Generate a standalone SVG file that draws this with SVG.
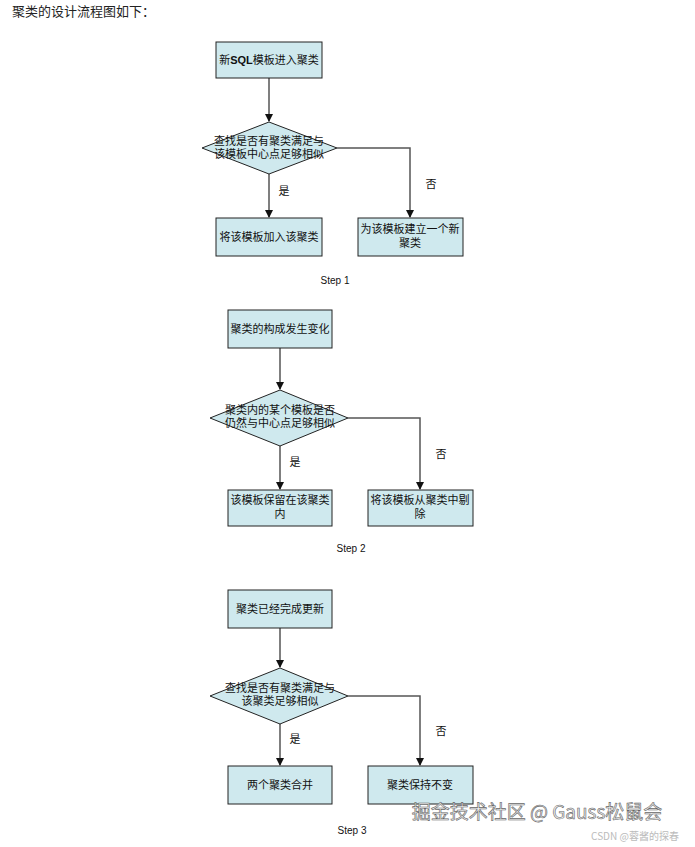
<svg xmlns="http://www.w3.org/2000/svg" width="695" height="847" viewBox="0 0 695 847">
<style>
.b{fill:#cfe9ee;stroke:#222;stroke-width:1}
.t{font-family:"Liberation Serif","Noto Sans CJK SC",serif;font-size:11px;fill:#111;text-anchor:middle}
.s{font-family:"Liberation Sans",sans-serif;font-size:10px;fill:#111;text-anchor:middle}
.c{fill:none;stroke:#555;stroke-width:1.5;marker-end:url(#a)}
</style>
<defs><marker id="a" markerWidth="8" markerHeight="8" refX="7" refY="4" orient="auto" markerUnits="userSpaceOnUse"><path d="M0,0L8,4L0,8z" fill="#111"/></marker></defs>
<rect width="695" height="847" fill="#fff"/>
<text x="12" y="16" style="font-family:'Noto Sans CJK SC',sans-serif;font-size:13px;fill:#222">聚类的设计流程图如下：</text>
<g id="connectors">
<path class="c" d="M269,78V121"/><path class="c" d="M269,174V217"/><path class="c" d="M337,148H410V217"/>
<path class="c" d="M280,348V389"/><path class="c" d="M280,446V489"/><path class="c" d="M348,418H420V489"/>
<path class="c" d="M280,628V667"/><path class="c" d="M280,724V765"/><path class="c" d="M348,696H420V765"/>
</g>
<g class="t"><text x="284" y="195">是</text><text x="431" y="188">否</text>
<text x="295" y="466">是</text><text x="441" y="458">否</text>
<text x="295" y="743">是</text><text x="441" y="735">否</text></g>
<g id="n1"><rect class="b" x="216" y="42" width="106" height="36"/><text class="t" x="269" y="64">新<tspan font-family="Liberation Sans" font-weight="bold">SQL</tspan>模板进入聚类</text></g>
<g id="d1"><polygon class="b" points="202,148 269,122 337,148 269,174"/><text class="t" x="269" y="145">查找是否有聚类满足与</text><text class="t" x="269" y="158">该模板中心点足够相似</text></g>
<g id="n2"><rect class="b" x="216" y="218" width="106" height="38"/><text class="t" x="269" y="241">将该模板加入该聚类</text></g>
<g id="n3"><rect class="b" x="358" y="218" width="105" height="38"/><text class="t" x="410" y="233">为该模板建立一个新</text><text class="t" x="410" y="247">聚类</text></g>
<text class="s" x="335" y="284">Step 1</text>
<g id="n4"><rect class="b" x="228" y="310" width="104" height="38"/><text class="t" x="280" y="333">聚类的构成发生变化</text></g>
<g id="d2"><polygon class="b" points="210,418 280,390 348,418 280,446"/><text class="t" x="280" y="414">聚类内的某个模板是否</text><text class="t" x="280" y="427">仍然与中心点足够相似</text></g>
<g id="n5"><rect class="b" x="228" y="490" width="104" height="36"/><text class="t" x="280" y="504">该模板保留在该聚类</text><text class="t" x="280" y="518">内</text></g>
<g id="n6"><rect class="b" x="368" y="490" width="105" height="36"/><text class="t" x="420" y="504">将该模板从聚类中剔</text><text class="t" x="420" y="518">除</text></g>
<text class="s" x="351" y="552">Step 2</text>
<g id="n7"><rect class="b" x="228" y="590" width="104" height="38"/><text class="t" x="280" y="613">聚类已经完成更新</text></g>
<g id="d3"><polygon class="b" points="210,696 280,668 348,696 280,724"/><text class="t" x="280" y="692">查找是否有聚类满足与</text><text class="t" x="280" y="705">该聚类足够相似</text></g>
<g id="n8"><rect class="b" x="228" y="766" width="104" height="38"/><text class="t" x="280" y="789">两个聚类合并</text></g>
<g id="n9"><rect class="b" x="368" y="766" width="105" height="38"/><text class="t" x="420" y="789">聚类保持不变</text></g>
<text class="s" x="352" y="834">Step 3</text>
<text x="537" y="819" style="font-family:'Noto Sans CJK SC',sans-serif;font-size:19px;fill:#eee;stroke:#666;stroke-width:0.6;text-anchor:middle">掘金技术社区 @ Gauss松鼠会</text>
<text x="635" y="840" style="font-family:'Noto Sans CJK SC',sans-serif;font-size:10px;fill:#bbb;text-anchor:middle">CSDN @蓉酱的探春</text>
</svg>
